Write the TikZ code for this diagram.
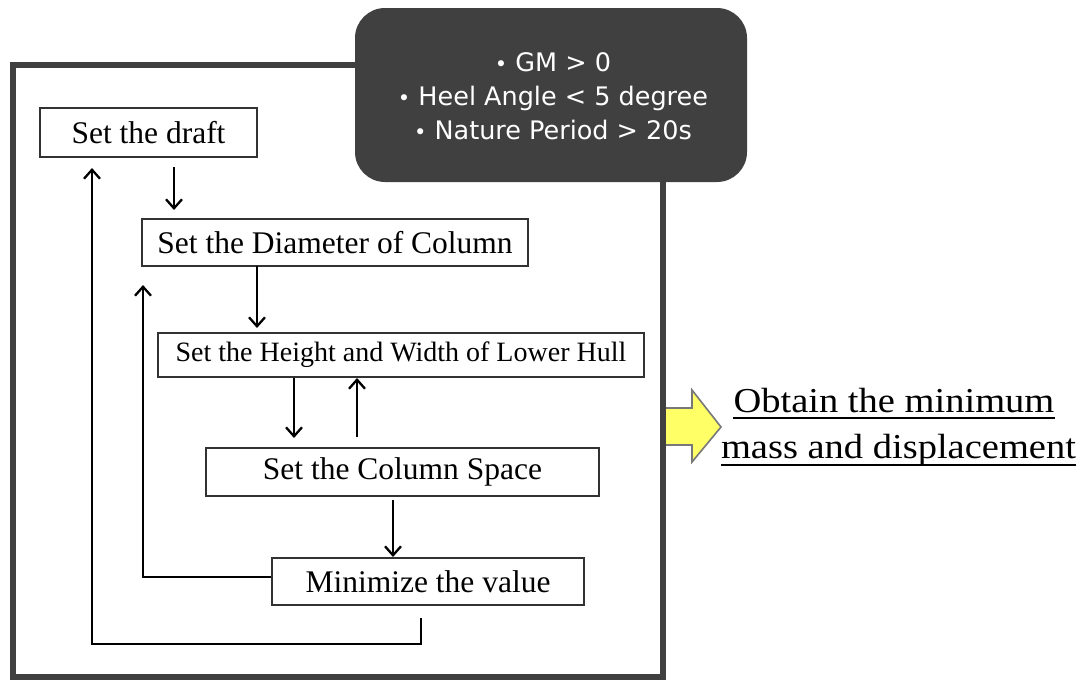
\documentclass[tikz,border=0pt]{standalone}
\usepackage{fontspec}
\setmainfont{Liberation Serif}
\newfontfamily\boxsans{DejaVu Sans}
\newfontfamily\wideserif[FakeStretch=1.1]{Liberation Serif}
\usetikzlibrary{arrows.meta}
\definecolor{darkgr}{RGB}{64,64,64}
\definecolor{boxline}{RGB}{50,50,50}
\definecolor{yel}{RGB}{255,255,102}
\definecolor{yelline}{RGB}{120,120,120}
\tikzset{
  stepbox/.style={draw=boxline, line width=1.8pt, fill=white, inner sep=0pt, font=\fontsize{31.5}{36}\selectfont},
  arr/.style={line width=2.3pt, -{Straight Barb[length=9pt,width=16pt]}},
  bul/.style={}
}
\newcommand{\bdot}{{\fontsize{21}{21}\selectfont •}}
\begin{document}
\begin{tikzpicture}[x=1pt,y=-1pt]
\useasboundingbox (0,0) rectangle (1086,680);
% yellow arrow
\filldraw[fill=yel, draw=yelline, line width=1.6pt, line join=miter]
  (664,408) -- (692,408) -- (692,390) -- (721,427) -- (692,462) -- (692,445) -- (664,445) -- cycle;
% outer frame
\draw[darkgr, line width=6pt] (13,65) rectangle (663,677);
% dark box
\node[fill=darkgr, rounded corners=30pt, minimum width=392pt, minimum height=174pt, inner sep=0pt] (cond) at (551,95) {};
\node[text=white, align=center, font=\boxsans\fontsize{25.5}{34}\selectfont, inner sep=0pt] (condtext) at (553,96)
  {\bdot\ GM > 0\\ \bdot\ Heel Angle < 5 degree\\ \bdot\ Nature Period > 20s};
% step boxes
\node[stepbox, minimum width=217pt, minimum height=49pt] (draft) at (148.5,132.5) {Set the draft};
\node[stepbox, minimum width=386pt, minimum height=47pt] (diam) at (335,242.5) {Set the Diameter of Column};
\node[stepbox, minimum width=486pt, minimum height=44pt, font=\fontsize{28}{32}\selectfont] (hull) at (401,355) {Set the Height and Width of Lower Hull};
\node[stepbox, minimum width=393pt, minimum height=48pt] (space) at (402.5,472) {Set the Column Space};
\node[stepbox, minimum width=312pt, minimum height=47pt] (minv) at (428,581.5) {Minimize the value};
% connector end points
\coordinate (a1s) at (174,167);
\coordinate (a1e) at (174,210);
\coordinate (a2s) at (257,266);
\coordinate (a2e) at (257,328);
\coordinate (a3s) at (294,378);
\coordinate (a3e) at (294,438);
\coordinate (a4s) at (357,437);
\coordinate (a4e) at (357,378);
\coordinate (a5s) at (393,500);
\coordinate (a5e) at (393,557);
\coordinate (a6e) at (143,285);
\coordinate (a7s) at (421,618);
\coordinate (a7c) at (421,644);
\coordinate (a7e) at (92,168);
% connectors
\draw[arr] (a1s) -- (a1e);
\draw[arr] (a2s) -- (a2e);
\draw[arr] (a3s) -- (a3e);
\draw[arr] (a4s) -- (a4e);
\draw[arr] (a5s) -- (a5e);
\draw[arr] ([yshift=4.5pt]minv.west) -| (a6e);
\draw[arr] (a7s) -- (a7c) -| (a7e);
% result text
\node[inner sep=0pt, anchor=base, font=\wideserif\fontsize{35}{40}\selectfont] (res1) at (894,412) {Obtain the minimum};
\node[inner sep=0pt, anchor=base, font=\wideserif\fontsize{35}{40}\selectfont] (res2) at (898.5,458) {mass and displacement};
\draw[line width=1.6pt] ([yshift=-6pt]res1.base west) -- ([yshift=-6pt]res1.base east);
\draw[line width=1.6pt] ([yshift=-7pt]res2.base west) -- ([yshift=-7pt]res2.base east);
\end{tikzpicture}
\end{document}
